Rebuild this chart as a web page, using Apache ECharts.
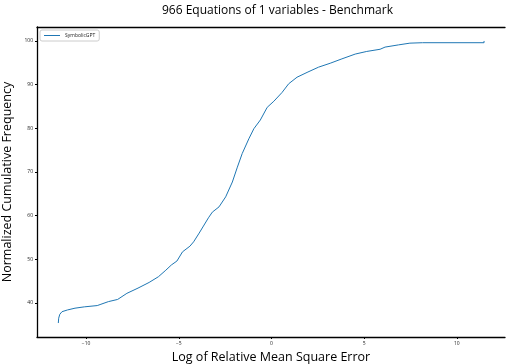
<!DOCTYPE html>
<html>
<head>
<meta charset="utf-8">
<script src="https://cdn.jsdelivr.net/npm/echarts@6/dist/echarts.min.js"></script>
<style>html,body{margin:0;padding:0;background:#fff}#c{width:506px;height:364px}</style>
</head>
<body>
<div id="c"></div>
<script>
const titleText = "966 Equations of 1 variables - Benchmark";
const seriesName = "SymbolicGPT";
const xTicks = [-10, -5, 0, 5, 10];
const yTicks = [40, 50, 60, 70, 80, 90, 100];
const logError = [-11.5, -11.48, -11.42, -11.3, -11.0, -10.6, -10.1, -9.4, -9.2, -8.8, -8.3, -7.8, -7.2, -6.6, -6.1, -5.7, -5.4, -5.1, -4.8, -4.4, -4.2, -3.9, -3.7, -3.4, -3.19, -2.83, -2.47, -2.11, -1.84, -1.58, -1.22, -0.95, -0.6, -0.23, 0.13, 0.57, 0.93, 1.38, 1.92, 2.54, 3.17, 3.8, 4.52, 5.14, 5.86, 6.13, 6.85, 7.47, 8.15, 11.47, 11.47];
const cumFreq = [35.4, 36.5, 37.4, 38.0, 38.4, 38.8, 39.1, 39.4, 39.7, 40.3, 40.8, 42.2, 43.4, 44.7, 46.0, 47.5, 48.7, 49.6, 51.7, 53.0, 54.0, 56.0, 57.4, 59.5, 60.8, 62.0, 64.3, 67.7, 71.1, 74.2, 77.6, 79.9, 81.9, 84.8, 86.2, 88.2, 90.2, 91.7, 92.8, 94.0, 94.9, 95.9, 97.0, 97.6, 98.1, 98.6, 99.1, 99.5, 99.6, 99.6, 100];

const chart = echarts.init(document.getElementById('c'), null, {renderer: 'canvas'});
const fmt = v => (v < 0 ? '\u2212' + Math.abs(v) : String(v));
chart.setOption({
  animation: false,
  backgroundColor: '#fff',
  textStyle: {fontFamily: 'Open Sans'},
  title: {
    text: titleText, left: 157, top: 0,
    textStyle: {fontFamily: 'Open Sans', fontSize: 12, fontWeight: 'normal', color: '#000'}
  },
  legend: {
    left: 40, top: 30, orient: 'vertical',
    data: [seriesName],
    itemWidth: 16, itemHeight: 1, itemGap: 2,
    icon: 'rect',
    borderColor: '#ccc', borderWidth: 1, borderRadius: 2, padding: [3, 4, 3, 4],
    textStyle: {fontSize: 5, color: '#222', padding: [0, 0, 0, 0]}
  },
  grid: {left: 37, top: 27, right: 1, bottom: 27, containLabel: false, outerBoundsMode: 'none'},
  xAxis: [{
    type: 'value', min: -12.65, max: 12.6,
    name: 'Log of Relative Mean Square Error', nameLocation: 'middle', nameGap: 12,
    nameTextStyle: {fontSize: 12.5, color: '#000', fontFamily: 'Open Sans'},
    axisLine: {onZero: false, lineStyle: {color: '#000', width: 1.3}},
    axisTick: {show: true, length: 2, customValues: xTicks, lineStyle: {color: '#000'}},
    axisLabel: {customValues: xTicks, formatter: fmt, fontSize: 5, color: '#222', margin: 4},
    splitLine: {show: false}
  }, {
    type: 'value', position: 'top', min: -12.65, max: 12.6,
    axisLine: {show: true, lineStyle: {color: '#000', width: 1.3}},
    axisTick: {show: false}, axisLabel: {show: false}, splitLine: {show: false}
  }],
  yAxis: {
    type: 'value', min: 32.2, max: 103.2,
    name: 'Normalized Cumulative Frequency', nameLocation: 'middle', nameGap: 20,
    nameTextStyle: {fontSize: 12.5, color: '#000', fontFamily: 'Open Sans'},
    axisLine: {show: true, onZero: false, lineStyle: {color: '#000', width: 1.3}},
    axisTick: {show: true, length: 2, customValues: yTicks, lineStyle: {color: '#000'}},
    axisLabel: {customValues: yTicks, fontSize: 5, color: '#222', margin: 4},
    splitLine: {show: false}
  },
  series: [{
    name: seriesName, type: 'line', xAxisIndex: 0,
    data: logError.map((x, i) => [x, cumFreq[i]]),
    showSymbol: false, symbol: 'none',
    lineStyle: {color: '#1f77b4', width: 1},
    itemStyle: {color: '#1f77b4'}
  }]
});
</script>
</body>
</html>
